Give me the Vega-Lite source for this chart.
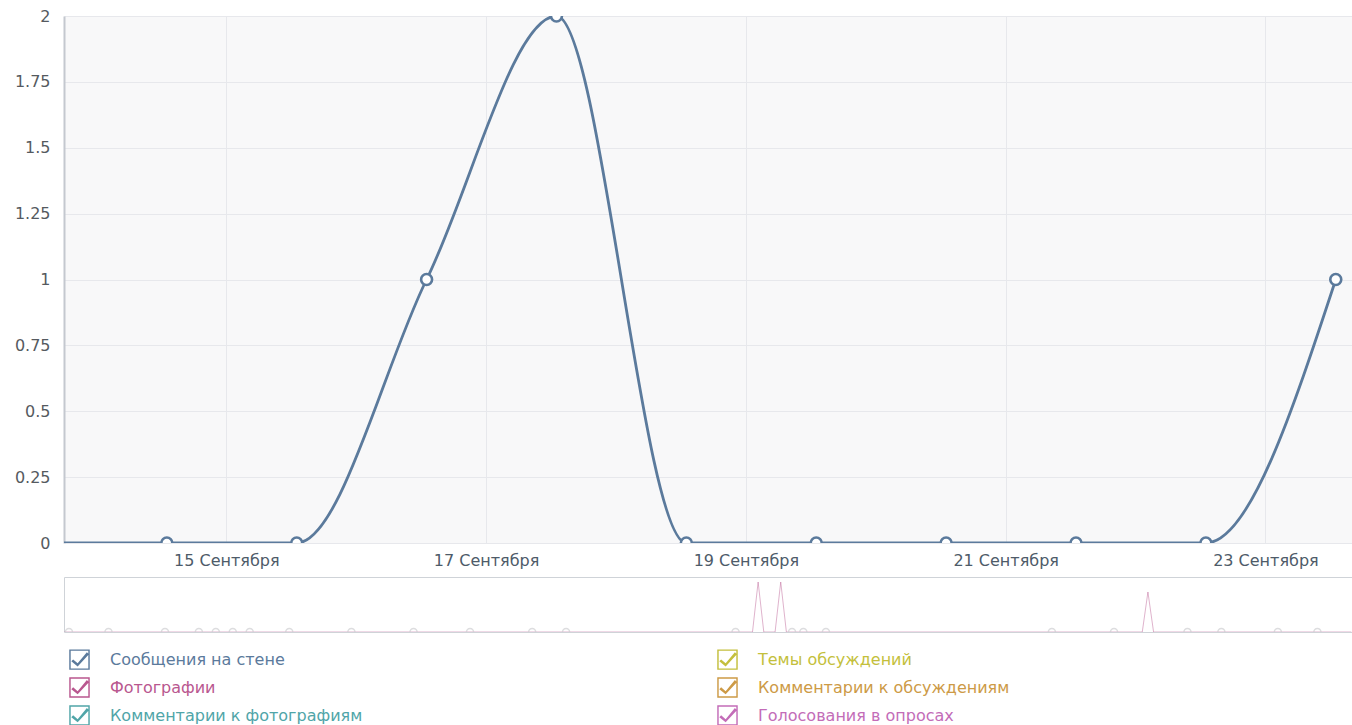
{
  "$schema": "https://vega.github.io/schema/vega-lite/v6.json",
  "padding": {"left": 0, "top": 8, "right": 0, "bottom": 0},
  "background": "white",
  "config": {
    "font": "DejaVu Sans",
    "view": {"stroke": null}
  },
  "datasets": {
    "main": [
      {"date": "2013-09-13T13:00:00", "series": "Сообщения на стене", "count": 0},
      {"date": "2013-09-14T13:00:00", "series": "Сообщения на стене", "count": 0},
      {"date": "2013-09-15T13:00:00", "series": "Сообщения на стене", "count": 0},
      {"date": "2013-09-16T13:00:00", "series": "Сообщения на стене", "count": 1},
      {"date": "2013-09-17T13:00:00", "series": "Сообщения на стене", "count": 2},
      {"date": "2013-09-18T13:00:00", "series": "Сообщения на стене", "count": 0},
      {"date": "2013-09-19T13:00:00", "series": "Сообщения на стене", "count": 0},
      {"date": "2013-09-20T13:00:00", "series": "Сообщения на стене", "count": 0},
      {"date": "2013-09-21T13:00:00", "series": "Сообщения на стене", "count": 0},
      {"date": "2013-09-22T13:00:00", "series": "Сообщения на стене", "count": 0},
      {"date": "2013-09-23T13:00:00", "series": "Сообщения на стене", "count": 1}
    ],
    "nav_line": [
      {"date": "2013-02-07T13:00:00", "series": "Фотографии", "count": 0},
      {"date": "2013-06-09T13:00:00", "series": "Фотографии", "count": 0},
      {"date": "2013-06-10T13:00:00", "series": "Фотографии", "count": 5},
      {"date": "2013-06-11T13:00:00", "series": "Фотографии", "count": 0},
      {"date": "2013-06-13T13:00:00", "series": "Фотографии", "count": 0},
      {"date": "2013-06-14T13:00:00", "series": "Фотографии", "count": 5},
      {"date": "2013-06-15T13:00:00", "series": "Фотографии", "count": 0},
      {"date": "2013-08-17T13:00:00", "series": "Фотографии", "count": 0},
      {"date": "2013-08-18T13:00:00", "series": "Фотографии", "count": 4},
      {"date": "2013-08-19T13:00:00", "series": "Фотографии", "count": 0},
      {"date": "2013-09-23T13:00:00", "series": "Фотографии", "count": 0}
    ],
    "nav_points": [
      {"date": "2013-02-08T13:00:00", "count": 0},
      {"date": "2013-02-15T13:00:00", "count": 0},
      {"date": "2013-02-25T13:00:00", "count": 0},
      {"date": "2013-03-03T13:00:00", "count": 0},
      {"date": "2013-03-06T13:00:00", "count": 0},
      {"date": "2013-03-09T13:00:00", "count": 0},
      {"date": "2013-03-12T13:00:00", "count": 0},
      {"date": "2013-03-19T13:00:00", "count": 0},
      {"date": "2013-03-30T13:00:00", "count": 0},
      {"date": "2013-04-10T13:00:00", "count": 0},
      {"date": "2013-04-20T13:00:00", "count": 0},
      {"date": "2013-05-01T13:00:00", "count": 0},
      {"date": "2013-05-07T13:00:00", "count": 0},
      {"date": "2013-06-06T13:00:00", "count": 0},
      {"date": "2013-06-16T13:00:00", "count": 0},
      {"date": "2013-06-18T13:00:00", "count": 0},
      {"date": "2013-06-22T13:00:00", "count": 0},
      {"date": "2013-08-01T13:00:00", "count": 0},
      {"date": "2013-08-12T13:00:00", "count": 0},
      {"date": "2013-08-25T13:00:00", "count": 0},
      {"date": "2013-08-31T13:00:00", "count": 0},
      {"date": "2013-09-10T13:00:00", "count": 0},
      {"date": "2013-09-17T13:00:00", "count": 0}
    ]
  },
  "vconcat": [
    {
      "width": 1288,
      "height": 527,
      "view": {"fill": "#f8f8f9", "stroke": null},
      "data": {"name": "main"},
      "encoding": {
        "x": {
          "field": "date",
          "type": "temporal",
          "scale": {
            "domain": [
              {"year": 2013, "month": 9, "date": 13, "hours": 18},
              {"year": 2013, "month": 9, "date": 23, "hours": 16}
            ]
          },
          "axis": {
            "title": null,
            "values": [
              {"year": 2013, "month": 9, "date": 15},
              {"year": 2013, "month": 9, "date": 17},
              {"year": 2013, "month": 9, "date": 19},
              {"year": 2013, "month": 9, "date": 21},
              {"year": 2013, "month": 9, "date": 23}
            ],
            "labelExpr": "timeFormat(datum.value, '%-d') + ' Сентября'",
            "domain": false,
            "ticks": false,
            "grid": true,
            "gridColor": "#e7e8ec",
            "labelPadding": 9,
            "labelFontSize": 16,
            "labelColor": "#4e5b69"
          }
        },
        "y": {
          "field": "count",
          "type": "quantitative",
          "scale": {"domain": [0, 2], "nice": false},
          "axis": {
            "title": null,
            "values": [0, 0.25, 0.5, 0.75, 1, 1.25, 1.5, 1.75, 2],
            "format": ".2~f",
            "domain": true,
            "domainColor": "#c4c8cf",
            "domainWidth": 2,
            "ticks": false,
            "grid": true,
            "gridColor": "#e7e8ec",
            "labelPadding": 14,
            "labelFontSize": 16,
            "labelColor": "#555a60",
            "minExtent": 64,
            "maxExtent": 64
          }
        },
        "color": {
          "field": "series",
          "type": "nominal",
          "scale": {
            "domain": [
              "Сообщения на стене",
              "Фотографии",
              "Комментарии к фотографиям",
              "Темы обсуждений",
              "Комментарии к обсуждениям",
              "Голосования в опросах"
            ],
            "range": ["#5b7a9c", "#b9578f", "#50a5a8", "#c4bf3c", "#cd9a46", "#c36cb8"]
          },
          "legend": {
            "title": null,
            "orient": "none",
            "legendX": 5,
            "legendY": 633,
            "columns": 2,
            "columnPadding": 354,
            "rowPadding": 7,
            "symbolType": "M-1,-1H1V1H-1Z M-0.86,-0.86V0.86H0.86V-0.86Z M-0.62,-0.02L-0.18,0.36L0.72,-0.72L0.92,-0.52L-0.18,0.66L-0.8,0.16Z",
            "symbolSize": 420,
            "symbolStrokeWidth": 0,
            "symbolOpacity": 1,
            "labelOffset": 20,
            "labelFontSize": 16,
            "labelLimit": 500,
            "labelFont": "DejaVu Sans",
            "encode": {
              "symbols": {
                "update": {
                  "fill": {"scale": "color", "field": "value"},
                  "stroke": {"value": "transparent"},
                  "strokeWidth": {"value": 0}
                }
              },
              "labels": {
                "update": {
                  "fill": {"scale": "color", "field": "value"}
                }
              }
            }
          }
        }
      },
      "layer": [
        {
          "mark": {"type": "line", "interpolate": "monotone", "strokeWidth": 2.8, "clip": true}
        },
        {
          "mark": {"type": "point", "filled": false, "fill": "white", "size": 120, "strokeWidth": 2.6, "opacity": 1, "clip": true}
        }
      ]
    },
    {
      "width": 1288,
      "height": 55,
      "view": {"fill": "white", "stroke": "#cfd3d8"},
      "layer": [
        {
          "data": {"name": "nav_line"},
          "mark": {"type": "line", "strokeWidth": 1, "opacity": 0.45, "clip": true},
          "encoding": {
            "x": {
              "field": "date",
              "type": "temporal",
              "scale": {
                "domain": [
                  {"year": 2013, "month": 2, "date": 7, "hours": 16},
                  {"year": 2013, "month": 9, "date": 23, "hours": 16}
                ]
              },
              "axis": null
            },
            "y": {"field": "count", "type": "quantitative", "scale": {"domain": [0, 5.5], "nice": false}, "axis": null},
            "color": {"field": "series", "type": "nominal", "legend": null}
          }
        },
        {
          "data": {"name": "nav_points"},
          "mark": {"type": "point", "filled": false, "color": "#cfcfd2", "size": 50, "strokeWidth": 1.5, "clip": true},
          "encoding": {
            "x": {"field": "date", "type": "temporal"},
            "y": {"field": "count", "type": "quantitative"}
          }
        },
        {
          "mark": {"type": "rule", "color": "#9ea4aa", "strokeWidth": 1},
          "encoding": {
            "x": {"datum": {"year": 2013, "month": 9, "date": 13, "hours": 18}, "type": "temporal"}
          }
        }
      ]
    }
  ],
  "spacing": 8,
  "resolve": {"scale": {"x": "independent", "y": "independent", "color": "shared"}}
}
